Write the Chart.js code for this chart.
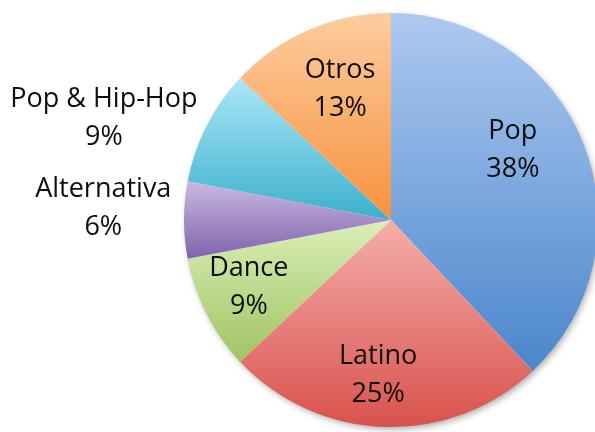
<!DOCTYPE html>
<html>
<head>
<meta charset="utf-8">
<script src="https://cdn.jsdelivr.net/npm/chart.js@4/dist/chart.umd.min.js"></script>
<style>
  html,body{margin:0;padding:0;background:#fff;overflow:hidden;}
  #wrap{position:absolute;left:0;top:0;width:620px;height:440px;}
</style>
</head>
<body>
<div id="wrap"><canvas id="pie" width="620" height="440"></canvas></div>
<script>
/* ---------------- datos ---------------- */
const generos = ['Pop','Latino','Dance','Alternativa','Pop & Hip-Hop','Otros'];
const porcentajes = [38, 25, 9, 6, 9, 13];

/* colores: claro arriba, oscuro abajo de cada porción */
const colClaro  = ['#aec9f1','#f5aeaa','#dbeeb8','#c9b8e2','#ace6f7','#fdcc9e'];
const colOscuro = ['#4a86cb','#d9524d','#9fc462','#8063ab','#3bb0cc','#f7923f'];

/* ubicación de etiquetas: fracción del radio + ajuste fino en px */
const etqPos = [
  {f:0.68, dx:-9,  dy:-18},
  {f:0.75, dx:-8,  dy:0},
  {f:0.76, dx:-2,  dy:-4},
  {f:1.39, dx:0,   dy:-12},
  {f:1.47, dx:-16, dy:36},
  {f:0.68, dx:5,   dy:-2},
];

const FONT = '27px "Open Sans", "DejaVu Sans", sans-serif';

/* ---------------- helpers ---------------- */
const total = porcentajes.reduce((a,b)=>a+b,0);

// degradado vertical sobre el alto de cada porción
function degradado(c){
  const chart = c.chart, area = chart.chartArea;
  if(!area) return colOscuro[c.dataIndex];
  const i = c.dataIndex;
  const cx = (area.left+area.right)/2, cy = (area.top+area.bottom)/2;
  const r = Math.min(area.width, area.height)/2;
  const acum = porcentajes.slice(0,i).reduce((a,b)=>a+b,0);
  const a0 = -Math.PI/2 + acum/total*2*Math.PI;
  const a1 = a0 + porcentajes[i]/total*2*Math.PI;
  let top = cy, bot = cy;
  for(let k=0;k<=60;k++){
    const y = cy + r*Math.sin(a0+(a1-a0)*k/60);
    top = Math.min(top,y); bot = Math.max(bot,y);
  }
  const g = chart.ctx.createLinearGradient(0,top,0,bot);
  g.addColorStop(0, colClaro[i]);
  g.addColorStop(1, colOscuro[i]);
  return g;
}

// sombra suave bajo el círculo
const sombra = {
  id:'sombra',
  beforeDatasetsDraw(chart){
    const arc = chart.getDatasetMeta(0).data[0];
    if(!arc) return;
    const {x,y,outerRadius} = arc.getProps(['x','y','outerRadius'],true);
    const ctx = chart.ctx;
    ctx.save();
    ctx.shadowColor = 'rgba(0,0,0,0.35)';
    ctx.shadowBlur = 7;
    ctx.shadowOffsetX = 2;
    ctx.shadowOffsetY = 3;
    ctx.fillStyle = '#fff';
    ctx.beginPath();
    ctx.arc(x,y,outerRadius-1,0,Math.PI*2);
    ctx.fill();
    ctx.restore();
  }
};

// nombre + porcentaje de cada porción
const etiquetas = {
  id:'etiquetas',
  afterDatasetsDraw(chart){
    const ctx = chart.ctx;
    ctx.save();
    ctx.font = FONT;
    ctx.fillStyle = '#0e0e0e';
    ctx.textAlign = 'center';
    ctx.textBaseline = 'middle';
    chart.getDatasetMeta(0).data.forEach((arc,i)=>{
      const {x,y,startAngle,endAngle,outerRadius} =
        arc.getProps(['x','y','startAngle','endAngle','outerRadius'],true);
      const mid = (startAngle+endAngle)/2;
      const p = etqPos[i];
      const tx = x + Math.cos(mid)*outerRadius*p.f + p.dx;
      const ty = y + Math.sin(mid)*outerRadius*p.f + p.dy;
      ctx.fillText(generos[i], tx, ty-19);
      ctx.fillText(porcentajes[i]+'%', tx, ty+19);
    });
    ctx.restore();
  }
};

/* ---------------- gráfico ---------------- */
new Chart(document.getElementById('pie'),{
  type:'pie',
  data:{
    labels:generos,
    datasets:[{data:porcentajes, backgroundColor:degradado, borderWidth:0}]
  },
  options:{
    responsive:false,
    animation:false,
    layout:{padding:{left:184,right:22,top:13,bottom:13}},
    plugins:{legend:{display:false}, tooltip:{enabled:false}}
  },
  plugins:[sombra,etiquetas]
});
</script>
</body>
</html>
